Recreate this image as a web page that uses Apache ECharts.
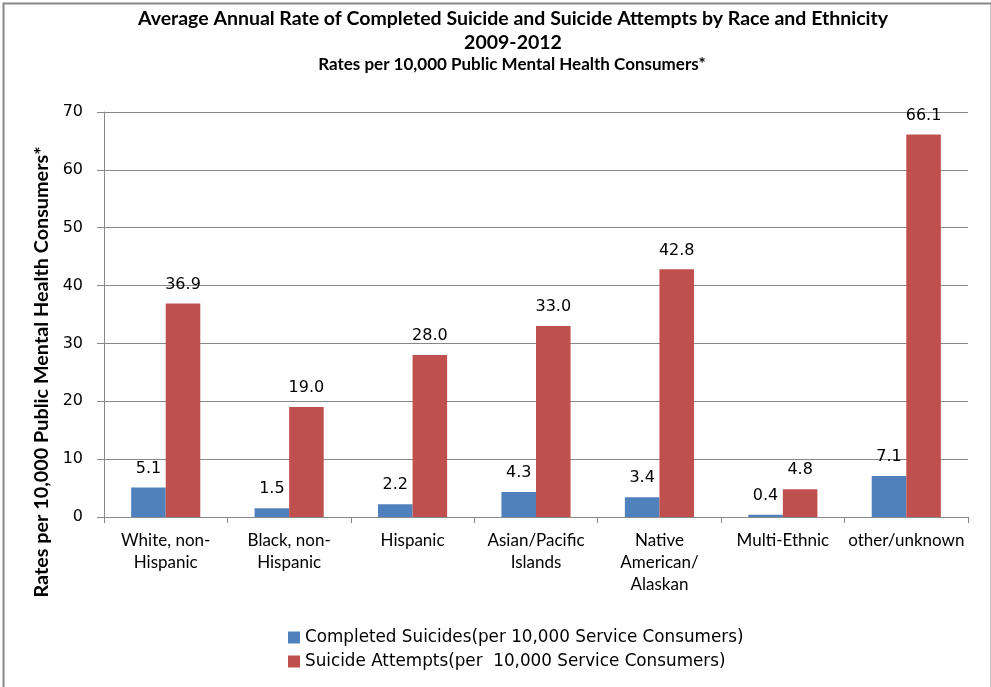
<!DOCTYPE html>
<html>
<head>
<meta charset="utf-8">
<script src="https://cdn.jsdelivr.net/npm/echarts@6/dist/echarts.min.js"></script>
<style>
  html, body { margin: 0; padding: 0; background: #fff; }
  #chart { width: 991px; height: 687px; }
</style>
</head>
<body>
<div id="chart"></div>
<script>
// Race / ethnicity groups
const categories = [
  'White, non-\nHispanic',
  'Black, non-\nHispanic',
  'Hispanic',
  'Asian/Pacific\nIslands',
  'Native\nAmerican/\nAlaskan',
  'Multi-Ethnic',
  'other/unknown'
];
// Rates per 10,000 public mental health consumers
const completedSuicides = [5.1, 1.5, 2.2, 4.3, 3.4, 0.4, 7.1];
const suicideAttempts = [36.9, 19.0, 28.0, 33.0, 42.8, 4.8, 66.1];
const yTicks = { min: 0, max: 70, interval: 10 };

const labelFont = 'DejaVu Sans';
const textFont = 'Lato';

const chart = echarts.init(document.getElementById('chart'));
chart.setOption({
  animation: false,
  backgroundColor: '#fff',
  title: [
    {
      text: 'Average Annual Rate of Completed Suicide and Suicide Attempts by Race and Ethnicity\n2009-2012',
      left: 508, top: 2, textAlign: 'center',
      textStyle: { fontFamily: textFont, fontSize: 19.5, fontWeight: 'bold', color: '#000', lineHeight: 24 }
    },
    {
      text: 'Rates per 10,000 Public Mental Health Consumers*',
      left: 507, top: 51, textAlign: 'center',
      textStyle: { fontFamily: textFont, fontSize: 17, fontWeight: 'bold', color: '#000' }
    }
  ],
  graphic: [
    {
      type: 'rect', left: 1, top: 1, silent: true,
      shape: { width: 988, height: 690 },
      style: { fill: 'none', stroke: '#888', lineWidth: 2 }
    },
    {
      type: 'text', x: 42, y: 372, rotation: Math.PI / 2,
      style: {
        text: 'Rates per 10,000 Public Mental Health Consumers*',
        fontFamily: textFont, fontSize: 19.8, fontWeight: 'bold', fill: '#000',
        align: 'center', verticalAlign: 'middle'
      }
    }
  ],
  legend: {
    orient: 'vertical', left: 283, top: 624, itemGap: 7,
    itemWidth: 12, itemHeight: 12, icon: 'rect',
    textStyle: { fontFamily: labelFont, fontSize: 16.8, color: '#000' },
    data: ['Completed Suicides(per 10,000 Service Consumers)', 'Suicide Attempts(per  10,000 Service Consumers)']
  },
  grid: { left: 104, right: 23, top: 112, bottom: 170, containLabel: false },
  xAxis: {
    type: 'category', data: categories,
    axisLine: { lineStyle: { color: '#888' } },
    axisTick: { show: true, length: 6, lineStyle: { color: '#888' } },
    axisLabel: { interval: 0, fontFamily: textFont, fontSize: 17, color: '#000', lineHeight: 22, margin: 13 }
  },
  yAxis: {
    type: 'value', min: yTicks.min, max: yTicks.max, interval: yTicks.interval,
    axisLine: { show: true, lineStyle: { color: '#888' } },
    axisTick: { show: true, length: 7, lineStyle: { color: '#888' } },
    axisLabel: { fontFamily: labelFont, fontSize: 16, color: '#000', margin: 21 },
    splitLine: { lineStyle: { color: '#888' } }
  },
  series: [
    {
      name: 'Completed Suicides(per 10,000 Service Consumers)', type: 'bar',
      data: completedSuicides, barCategoryGap: '44%', barGap: '0%',
      itemStyle: { color: '#4F81BD' },
      label: { show: true, position: 'top', distance: 11, formatter: p => p.value.toFixed(1),
        fontFamily: labelFont, fontSize: 16, color: '#000' }
    },
    {
      name: 'Suicide Attempts(per  10,000 Service Consumers)', type: 'bar',
      data: suicideAttempts, barCategoryGap: '44%', barGap: '0%',
      itemStyle: { color: '#C0504D' },
      label: { show: true, position: 'top', distance: 11, formatter: p => p.value.toFixed(1),
        fontFamily: labelFont, fontSize: 16, color: '#000' }
    }
  ]
});
</script>
</body>
</html>
